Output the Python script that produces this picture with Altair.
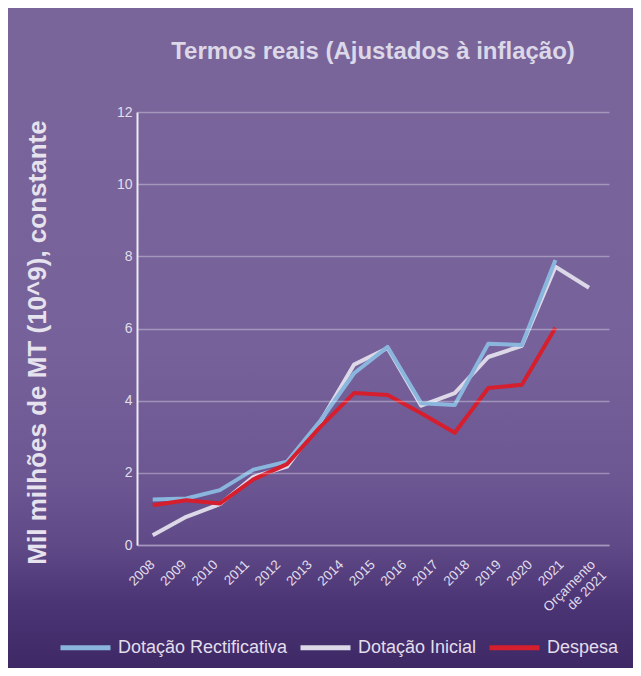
import altair as alt
import pandas as pd

# ---- data ----
x_labels = ["2008", "2009", "2010", "2011", "2012", "2013", "2014", "2015",
            "2016", "2017", "2018", "2019", "2020", "2021", "Orçamento de 2021"]
# the drawn series have 14 evenly spaced vertices (slots 0..13)
slots = [0, 1, 2, 3, 4, 5, 6, 7, 8, 9, 10, 11, 12, 13]
rectificativa = [1.26, 1.29, 1.52, 2.09, 2.31, 3.45, 4.76, 5.49, 3.93, 3.88, 5.58, 5.54, 7.90, None]
inicial = [0.27, 0.78, 1.13, 1.89, 2.17, 3.42, 5.00, 5.46, 3.86, 4.21, 5.21, 5.52, 7.71, 7.13]
despesa = [1.10, 1.24, 1.15, 1.82, 2.24, 3.28, 4.21, 4.16, 3.65, 3.11, 4.35, 4.44, 6.02, None]
series_names = ["Dotação Rectificativa", "Dotação Inicial", "Despesa"]
series_colors = ["#8ab6de", "#dcd8e8", "#d61f2e"]
y_ticks = [0, 2, 4, 6, 8, 10, 12]

rows = []
for name, vals in zip(series_names, [rectificativa, inicial, despesa]):
    for s, v in zip(slots, vals):
        if v is not None:
            rows.append({"slot": s, "value": v, "series": name})
df = pd.DataFrame(rows)

FONT = "Liberation Sans, Arial, sans-serif"
TXT = "#e2deec"
W, H = 472, 433
PAD = {"left": 129, "top": 104, "right": 24, "bottom": 123}

gradient = alt.LinearGradient(
    gradient="linear", x1=0, y1=0, x2=0, y2=1,
    stops=[
        alt.GradientStop(color="#79659a", offset=0),
        alt.GradientStop(color="#76619a", offset=0.43),
        alt.GradientStop(color="#6c5793", offset=0.66),
        alt.GradientStop(color="#5f4987", offset=0.78),
        alt.GradientStop(color="#4b3575", offset=0.88),
        alt.GradientStop(color="#3e2965", offset=1),
    ],
)

# background panel from the plot top down to the bottom of the figure
bg = alt.Chart(pd.DataFrame({"k": [0]})).mark_rect(fill=gradient).encode(
    x=alt.value(-PAD["left"]), x2=alt.value(W + PAD["right"]),
    y=alt.value(0), y2=alt.value(H + PAD["bottom"])
)

y_enc = alt.Y(
    "value:Q",
    scale=alt.Scale(domain=[0, 12], nice=False),
    axis=alt.Axis(
        values=y_ticks, grid=True, gridColor="#ffffff", gridOpacity=0.33, gridWidth=1.5,
        domainColor="#eeeaf4", domainWidth=2, ticks=False,
        labelColor=TXT, labelFontSize=14, labelFont=FONT, labelPadding=5,
        title="Mil milhões de MT (10^9), constante", titleFont=FONT,
        titleFontSize=26, titleFontWeight="bold", titleColor="#e6e2ee",
        titleX=-100, titleY=230, titleAlign="center", titleBaseline="middle",
        titleAngle=270, zindex=1,
    ),
)
x_enc = alt.X(
    "slot:Q",
    scale=alt.Scale(domain=[-0.468, 13.596], nice=False, zero=False),
    axis=None,
)
color_enc = alt.Color(
    "series:N",
    scale=alt.Scale(domain=series_names, range=series_colors),
    legend=alt.Legend(
        orient="none", legendX=-79, legendY=508, direction="horizontal", title=None,
        symbolType="stroke", symbolSize=2500, symbolStrokeWidth=5,
        labelFont=FONT, labelFontSize=18, labelColor=TXT, labelOffset=5,
        columnPadding=2, labelLimit=400, zindex=1,
    ),
)

def series_layer(name):
    return alt.Chart(df).transform_filter(
        alt.datum.series == name
    ).mark_line(strokeWidth=4, strokeJoin="round").encode(
        x=x_enc, y=y_enc, color=color_enc
    )

lines = alt.layer(
    series_layer("Dotação Inicial"),
    series_layer("Dotação Rectificativa"),
    series_layer("Despesa"),
)

labels_layer = alt.Chart(pd.DataFrame({"label": x_labels})).mark_text(opacity=0).encode(
    x=alt.X(
        "label:N", sort=x_labels,
        scale=alt.Scale(type="band", paddingInner=0, paddingOuter=0),
        axis=alt.Axis(
            orient="bottom", title=None, ticks=False,
            domainColor="#a596bd", domainWidth=1.5,
            labelAngle=315, labelAlign="right", labelBaseline="middle",
            labelPadding=17, labelFont=FONT, labelFontSize=13.5, labelColor=TXT,
            labelExpr="datum.label == 'Orçamento de 2021' ? ['Orçamento', 'de 2021'] : datum.label",
            zindex=1,
        ),
    ),
    y=alt.value(0),
    text=alt.value(""),
)

chart = alt.layer(bg, lines, labels_layer).resolve_scale(x="independent").properties(
    width=W, height=H,
    autosize=alt.AutoSizeParams(type="none"),
    padding=PAD,
    title=alt.Title(
        "Termos reais (Ajustados à inflação)", font=FONT, fontSize=24,
        fontWeight="bold", color="#dcd8e8", anchor="middle", frame="group", offset=41,
    ),
).configure_view(stroke=None).configure(background="#79659a")

chart.save("out.html", embed_options={"renderer": "svg", "actions": False})
